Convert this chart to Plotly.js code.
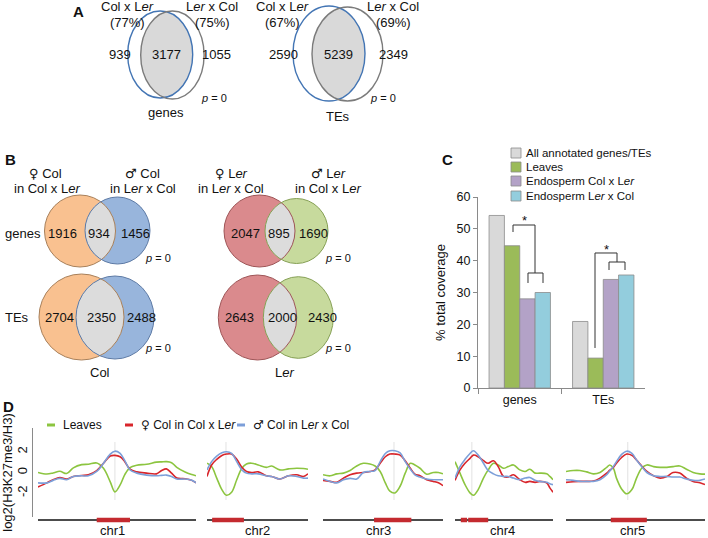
<!DOCTYPE html>
<html><head><meta charset="utf-8">
<script src="https://cdn.plot.ly/plotly-3.0.1.min.js"></script>
<style>html,body{margin:0;padding:0;background:#fff}</style>
</head><body><div id="chart" style="width:708px;height:538px"></div>
<script>
// ---------------- DATA ----------------
// Panel A: overlap of imprinted targets between reciprocal crosses
const vennAGenes = [939, 3177, 1055];
const vennAGenesPct = ['77%', '75%'];
const vennATEs = [2590, 5239, 2349];
const vennATEsPct = ['67%', '69%'];
// Panel B: parental-allele overlaps
const vennBColGenes = [1916, 934, 1456];
const vennBColTEs = [2704, 2350, 2488];
const vennBLerGenes = [2047, 895, 1690];
const vennBLerTEs = [2643, 2000, 2430];
// Panel C: % total coverage
const covCategories = ['genes', 'TEs'];
const covAll = [54.2, 20.9];
const covLeaves = [44.7, 9.4];
const covEndoColLer = [28.0, 34.1];
const covEndoLerCol = [30.0, 35.5];
const covNames = ['All annotated genes/TEs', 'Leaves', 'Endosperm Col x L<i>er</i>', 'Endosperm L<i>er</i> x Col'];
// Panel D: log2(H3K27me3/H3) profiles along chromosomes (Mb)
const chrNames = ['chr1', 'chr2', 'chr3', 'chr4', 'chr5'];
const chrLengths = [30.4, 19.7, 23.5, 18.6, 27.0];
const chrCentromeres = [14.8, 3.7, 13.9, 3.2, 12.0];
const periChr = [0, 1, 2, 3, 3, 4];
const periStart = [11.3, 1.0, 10.0, 1.1, 2.5, 8.7];
const periEnd = [17.7, 7.2, 17.3, 2.3, 6.3, 15.7];

const chr1X = [0, 1.7, 2.9, 4.2, 5.5, 6.8, 8.4, 9.7, 11.3, 12.6, 13.9, 14.8, 15.8, 16.7, 17.7, 19.0, 20.9, 22.8, 23.8, 24.7, 25.7, 26.7, 28.3, 29.6, 30.4];
const chr1Leaves = [0.0, -0.15, -0.05, 0.12, -0.1, 0.45, 0.76, 0.8, 0.92, 0.4, -0.9, -1.87, -1.2, -0.2, 0.48, 0.7, 0.8, 1.0, 1.03, 1.05, 0.95, 0.5, 0.05, -0.2, -0.32];
const chr1Female = [-1.4, -1.0, -0.7, -0.48, -0.63, -0.38, -0.29, -0.22, 0.19, 0.89, 1.59, 1.65, 1.52, 1.05, 0.32, 0.06, -0.06, -0.13, 0.19, 0.35, -0.06, -0.54, -0.6, -0.76, -1.0];
const chr1Male = [-1.0, -1.0, -0.76, -0.57, -0.7, -0.38, -0.32, -0.32, 0.1, 0.89, 1.78, 2.06, 1.84, 1.14, 0.25, -0.06, -0.25, -0.32, -0.28, -0.25, -0.38, -0.63, -0.63, -0.76, -1.0];

const chr2X = [0, 0.9, 1.9, 2.9, 3.8, 4.8, 5.8, 6.8, 7.7, 8.7, 10.0, 11.6, 12.6, 14.2, 15.9, 17.5, 18.8, 19.7];
const chr2Leaves = [0.9, 0.57, -0.54, -1.65, -2.2, -1.9, -0.7, 0.41, 0.83, 0.9, 0.73, 0.5, 0.63, 0.25, 0.35, 0.41, 0.38, 0.32];
const chr2Female = [-0.38, 0.73, 1.27, 1.65, 1.78, 1.78, 1.27, 0.5, 0.1, 0.0, 0.06, -0.32, -0.38, -0.63, -0.32, -0.22, -0.38, -0.13];
const chr2Male = [0.25, 1.05, 1.59, 1.9, 2.0, 1.84, 1.05, 0.25, -0.06, -0.13, -0.13, -0.32, -0.38, -0.63, -0.32, -0.38, -0.54, -0.54];

const chr3X = [0, 1.4, 2.7, 4.0, 5.3, 6.6, 7.9, 9.2, 10.2, 11.2, 12.2, 13.1, 14.1, 15.1, 16.1, 17.1, 18.0, 19.0, 20.3, 21.6, 22.6, 23.5];
const chr3Leaves = [-0.22, -0.32, -0.13, -0.06, 0.19, 0.63, 0.89, 0.83, 0.63, 0.1, -1.0, -1.81, -1.97, -1.33, -0.06, 0.89, 0.73, 0.41, -0.16, 0.0, 0.0, -0.13];
const chr3Female = [-0.76, -0.86, -0.95, -0.54, -0.22, -0.06, 0.0, 0.1, 0.25, 0.89, 1.52, 1.78, 1.78, 1.68, 1.14, 0.41, -0.16, -0.32, -0.7, -0.86, -1.0, -1.27];
const chr3Male = [-0.63, -0.86, -1.0, -0.7, -0.57, -0.63, 0.0, 0.1, 0.19, 1.05, 1.84, 2.1, 2.1, 1.9, 1.05, 0.32, -0.22, -0.44, -0.63, -0.7, -0.7, -0.7];

const chr4X = [0, 0.95, 1.9, 2.85, 3.5, 4.4, 5.4, 6.3, 7.3, 8.2, 9.2, 10.1, 11.1, 12.3, 13.3, 14.2, 15.2, 16.1, 17.4, 18.0, 18.6];
const chr4Leaves = [1.05, -0.06, -1.17, -1.97, -2.2, -1.65, -0.54, 0.25, 0.89, 0.73, 0.41, 0.57, 0.73, 0.25, 0.1, 0.32, -0.06, -0.06, -0.13, -0.38, -0.7];
const chr4Female = [-0.76, 0.25, 0.89, 1.37, 1.68, 1.52, 1.14, 0.89, 1.14, 0.57, -0.38, -0.44, -0.22, -0.7, -0.95, -0.86, -0.95, -0.86, -1.0, -1.49, -1.9];
const chr4Male = [-0.54, 0.57, 1.27, 1.84, 2.1, 1.68, 0.89, 0.19, -0.13, -0.32, -0.38, -0.38, -0.54, -0.7, -0.54, -0.48, -0.76, -0.86, -0.95, -1.08, -1.17];

const chr5X = [0, 1.4, 2.7, 4.0, 5.3, 6.6, 7.9, 8.5, 9.2, 9.8, 10.8, 11.8, 12.8, 13.7, 14.7, 15.7, 17.0, 18.3, 19.6, 20.8, 22.1, 23.4, 24.7, 26.0, 27.0];
const chr5Leaves = [0.1, 0.19, 0.19, 0.06, -0.13, 0.0, 0.5, 0.73, 0.41, -0.54, -1.59, -2.06, -1.65, -0.54, 0.41, 0.73, 0.57, 0.5, 0.5, 0.57, 0.63, 0.32, 0.0, -0.13, -0.16];
const chr5Female = [-0.95, -0.89, -0.86, -0.86, -0.83, -0.54, -0.06, 0.22, 0.5, 0.9, 1.45, 1.78, 1.65, 1.21, 0.63, 0.1, -0.32, -0.54, -0.38, 0.0, -0.06, -0.54, -0.86, -1.0, -1.17];
const chr5Male = [-0.7, -0.76, -0.86, -0.86, -0.86, -0.7, -0.22, 0.15, 0.57, 1.05, 1.75, 2.06, 1.84, 1.21, 0.57, 0.0, -0.32, -0.38, -0.38, -0.44, -0.44, -0.63, -0.76, -0.76, -0.63];

const FEM = '<span style="font-family:DejaVu Sans">\u2640</span>';
const MAL = '<span style="font-family:DejaVu Sans">\u2642</span>';
const profileNames = ['Leaves', FEM + ' Col in Col x L<i>er</i>', MAL + ' Col in L<i>er</i> x Col'];

// ---------------- LAYOUT HELPERS ----------------
const W = 708, H = 538;
const F = '"Liberation Sans", Arial, Helvetica, sans-serif';
const px = x => x / W;
const py = y => 1 - y / H;
const shapes = [];
const annotations = [];
function txt(text, x, y, size, opts) {
  const o = Object.assign({xanchor: 'center', yanchor: 'middle', family: F, color: '#111'}, opts || {});
  annotations.push({xref: 'paper', yref: 'paper', x: px(x), y: py(y), text: text, showarrow: false,
    xanchor: o.xanchor, yanchor: o.yanchor, font: {family: o.family, size: size, color: o.color}});
}
function ellipse(e, fill, stroke, w) {
  shapes.push({type: 'circle', xref: 'paper', yref: 'paper', layer: 'above',
    x0: px(e.cx - e.rx), x1: px(e.cx + e.rx), y0: py(e.cy + e.ry), y1: py(e.cy - e.ry),
    fillcolor: fill, line: {color: stroke, width: w}});
}
function ellPt(e, t) { return [e.cx + e.rx * Math.cos(t), e.cy + e.ry * Math.sin(t)]; }
function inE(e, p) { const dx = (p[0] - e.cx) / e.rx, dy = (p[1] - e.cy) / e.ry; return dx * dx + dy * dy <= 1; }
function arcIn(a, b) {
  const n = 360, pts = [], fl = [];
  for (let i = 0; i < n; i++) { const p = ellPt(a, 2 * Math.PI * i / n); pts.push(p); fl.push(inE(b, p)); }
  let s = 0;
  for (let i = 0; i < n; i++) { if (fl[i] && !fl[(i - 1 + n) % n]) { s = i; break; } }
  const out = [];
  for (let k = 0; k < n; k++) { const i = (s + k) % n; if (!fl[i]) break; out.push(pts[i]); }
  return out;
}
function lens(a, b, fill) {
  const pts = arcIn(a, b).concat(arcIn(b, a));
  const path = 'M' + pts.map(p => px(p[0]).toFixed(5) + ',' + py(p[1]).toFixed(5)).join('L') + 'Z';
  shapes.push({type: 'path', xref: 'paper', yref: 'paper', layer: 'above', path: path, fillcolor: fill, line: {width: 0}});
}
function poly(points, color, w) {
  const path = 'M' + points.map(p => px(p[0]).toFixed(5) + ',' + py(p[1]).toFixed(5)).join('L');
  shapes.push({type: 'path', xref: 'paper', yref: 'paper', layer: 'above', path: path, line: {color: color, width: w}});
}
const LER = 'L<i>er</i>';

// ---------------- PANEL A ----------------
txt('<b>A</b>', 78, 11, 15);
function vennA(blue, gray, counts, pcts, xs, label, labelY, pX) {
  lens(blue, gray, '#d9d9d9');
  ellipse(blue, 'rgba(0,0,0,0)', '#4375b4', 1.4);
  ellipse(gray, 'rgba(0,0,0,0)', '#7b7b7b', 1.4);
  txt('Col x ' + LER, xs[0], 7, 13);
  txt('(' + pcts[0] + ')', xs[0], 22, 13);
  txt(LER + ' x Col', xs[4], 7, 13);
  txt('(' + pcts[1] + ')', xs[4], 22, 13);
  txt(String(counts[0]), xs[1], 55, 13);
  txt(String(counts[1]), xs[2], 55, 13);
  txt(String(counts[2]), xs[3], 55, 13);
  txt('<i>p</i> = 0', pX, 98, 11);
  txt(label, xs[2], labelY, 13);
}
vennA({cx: 160.2, cy: 54.5, rx: 32.5, ry: 43.5}, {cx: 172.4, cy: 55, rx: 31.7, ry: 44},
  vennAGenes, vennAGenesPct, [127, 120, 166, 216, 212], 'genes', 113, 214);
vennA({cx: 329, cy: 53.5, rx: 36, ry: 47.5}, {cx: 347.5, cy: 54, rx: 35.5, ry: 47},
  vennATEs, vennATEsPct, [282, 283, 338, 393, 393], 'TEs', 116, 383);

// ---------------- PANEL B ----------------
txt('<b>B</b>', 10, 159, 15);
txt(FEM + ' Col', 45, 173, 13); txt('in Col x ' + LER, 47, 188, 13);
txt(MAL + ' Col', 142, 173, 13); txt('in ' + LER + ' x Col', 143, 188, 13);
txt(FEM + ' ' + LER, 232, 173, 13); txt('in ' + LER + ' x Col', 231, 188, 13);
txt(MAL + ' ' + LER, 328, 173, 13); txt('in Col x ' + LER, 328, 188, 13);
txt('genes', 3, 233, 13, {xanchor: 'left'});
txt('TEs', 3, 317, 13, {xanchor: 'left'});
function vennB(a, b, fa, sa, fb, sb, counts, xs, cy, pX, pY) {
  ellipse(a, fa, 'rgba(0,0,0,0)', 0);
  ellipse(b, fb, 'rgba(0,0,0,0)', 0);
  lens(a, b, '#dcdcdc');
  ellipse(a, 'rgba(0,0,0,0)', sa, 1);
  ellipse(b, 'rgba(0,0,0,0)', sb, 1);
  txt(String(counts[0]), xs[0], cy, 13);
  txt(String(counts[1]), xs[1], cy, 13);
  txt(String(counts[2]), xs[2], cy, 13);
  txt('<i>p</i> = 0', pX, pY, 11);
}
const ORF = '#f9c190', ORS = '#a8805a', BLF = '#98b5dc', BLS = '#5d7aa5';
const RDF = '#da8a8d', RDS = '#9e5557', GRF = '#c7da9d', GRS = '#86a055';
vennB({cx: 80, cy: 231, rx: 35.5, ry: 36}, {cx: 117.5, cy: 230.5, rx: 32.5, ry: 33.5},
  ORF, ORS, BLF, BLS, vennBColGenes, [62, 99, 135], 233, 158, 258);
vennB({cx: 259.5, cy: 231, rx: 35.5, ry: 36}, {cx: 296.5, cy: 231, rx: 31.5, ry: 32.5},
  RDF, RDS, GRF, GRS, vennBLerGenes, [245, 279, 313], 233, 338, 258);
vennB({cx: 81.5, cy: 317, rx: 42.5, ry: 43}, {cx: 115, cy: 317.5, rx: 39, ry: 41.5},
  ORF, ORS, BLF, BLS, vennBColTEs, [59, 101, 141], 317, 158, 348);
vennB({cx: 257.5, cy: 317.5, rx: 39.2, ry: 42.5}, {cx: 298.3, cy: 317.5, rx: 35, ry: 40.8},
  RDF, RDS, GRF, GRS, vennBLerTEs, [239, 282, 322], 317, 338, 348);
txt('Col', 100, 372, 13);
txt(LER, 284, 372, 13);

// ---------------- PANEL C ----------------
txt('<b>C</b>', 447, 159, 15);
const covColors = ['#d9d9d9', '#9bbb59', '#b3a2c7', '#93cddd'];
const covSeries = [covAll, covLeaves, covEndoColLer, covEndoLerCol];
const traces = covSeries.map((vals, i) => ({
  type: 'bar', x: covCategories, y: vals, name: covNames[i], xaxis: 'x', yaxis: 'y',
  marker: {color: covColors[i], line: {color: '#8c8c8c', width: 0.8}}, hoverinfo: 'x+y+name'
}));
// legend for C (key boxes + labels)
const legRows = [153, 167, 181, 196];
covNames.forEach((n, i) => {
  shapes.push({type: 'rect', xref: 'paper', yref: 'paper', layer: 'above',
    x0: px(511), x1: px(521), y0: py(legRows[i] + 5), y1: py(legRows[i] - 5),
    fillcolor: covColors[i], line: {color: '#8c8c8c', width: 0.8}});
  txt(n, 524, legRows[i], 11.5, {xanchor: 'left'});
});
// significance brackets
poly([[513, 232], [513, 225], [535, 225], [535, 273]], '#333', 1);
poly([[528, 283], [528, 273], [543, 273], [543, 283]], '#333', 1);
poly([[595, 348], [595, 253], [617, 253], [617, 262]], '#333', 1);
poly([[609, 270], [609, 262], [625, 262], [625, 270]], '#333', 1);
txt('*', 524, 221, 13);
txt('*', 606, 249, 13);

// ---------------- PANEL D ----------------
txt('<b>D</b>', 8, 406, 15);
const profColors = ['#8cc540', '#d8252b', '#7c9fd9'];
const legD = [[47, 55, 61], [125, 133, 139], [237, 245, 251]];
profileNames.forEach((n, i) => {
  shapes.push({type: 'line', xref: 'paper', yref: 'paper', layer: 'above',
    x0: px(legD[i][0]), x1: px(legD[i][1]), y0: py(425), y1: py(425), line: {color: profColors[i], width: 3}});
  txt(n, legD[i][2], 425, 12, {xanchor: 'left'});
});
const chrX = [chr1X, chr2X, chr3X, chr4X, chr5X];
const chrProfiles = [
  [chr1Leaves, chr1Female, chr1Male],
  [chr2Leaves, chr2Female, chr2Male],
  [chr3Leaves, chr3Female, chr3Male],
  [chr4Leaves, chr4Female, chr4Male],
  [chr5Leaves, chr5Female, chr5Male]
];
const chrDomPx = [[38, 196], [207, 308], [323, 443], [455, 553], [566, 705]];
const chrLabelPx = [112, 257, 378, 502, 632];
const layoutAxes = {};
chrNames.forEach((c, k) => {
  const ax = 'x' + (k + 2);
  chrProfiles[k].forEach((vals, s) => {
    traces.push({type: 'scatter', mode: 'lines', x: chrX[k], y: vals, xaxis: ax, yaxis: 'y2',
      name: profileNames[s], showlegend: false,
      line: {color: profColors[s], width: 1.6, shape: 'spline', smoothing: 1}});
  });
  layoutAxes['xaxis' + (k + 2)] = {domain: [px(chrDomPx[k][0]), px(chrDomPx[k][1])], range: [0, chrLengths[k]],
    anchor: 'y2', visible: false, fixedrange: true};
  shapes.push({type: 'line', xref: ax, yref: 'paper', layer: 'below', x0: chrCentromeres[k], x1: chrCentromeres[k],
    y0: py(500), y1: py(442), line: {color: '#e2e2e2', width: 1}});
  shapes.push({type: 'line', xref: ax, yref: 'paper', layer: 'above', x0: 0, x1: chrLengths[k],
    y0: py(520), y1: py(520), line: {color: '#111', width: 1.6}});
  annotations.push({xref: ax, yref: 'paper', x: chrLengths[k] * (chrLabelPx[k] - chrDomPx[k][0]) / (chrDomPx[k][1] - chrDomPx[k][0]),
    y: py(530), text: c, showarrow: false, xanchor: 'center', yanchor: 'middle', font: {family: F, size: 13, color: '#111'}});
});
periChr.forEach((k, i) => {
  shapes.push({type: 'line', xref: 'x' + (k + 2), yref: 'paper', layer: 'above', x0: periStart[i], x1: periEnd[i],
    y0: py(520), y1: py(520), line: {color: '#c42a2f', width: 4.5}});
});

const layout = Object.assign({
  width: W, height: H, margin: {l: 0, r: 0, t: 0, b: 0},
  paper_bgcolor: '#fff', plot_bgcolor: 'rgba(0,0,0,0)',
  showlegend: false, font: {family: F, size: 12, color: '#111'},
  barmode: 'group', bargap: 0.265, bargroupgap: 0,
  xaxis: {domain: [px(478), px(645)], anchor: 'y', type: 'category', showline: true, linecolor: '#8a8a8a', linewidth: 1,
    ticks: 'outside', tickson: 'boundaries', ticklen: 5, tickcolor: '#8a8a8a', showgrid: false, zeroline: false,
    tickfont: {family: F, size: 12.5, color: '#111'}, fixedrange: true},
  yaxis: {domain: [py(388), py(197)], anchor: 'x', range: [0, 60], dtick: 10, showline: true, linecolor: '#8a8a8a', linewidth: 1,
    ticks: 'outside', ticklen: 4, tickcolor: '#8a8a8a', showgrid: false, zeroline: false,
    tickfont: {family: F, size: 12.5, color: '#111'}, fixedrange: true,
    title: {text: '% total coverage', font: {family: F, size: 13, color: '#111'}, standoff: 8}},
  yaxis2: {domain: [py(517), py(428)], range: [-4.3, 4.3], anchor: 'free', position: px(32),
    showline: true, linecolor: '#8a8a8a', linewidth: 1.2, ticks: '', tickmode: 'array', tickvals: [-2, 0, 2], ticktext: ['-2', '0', '2'],
    tickangle: -90, showgrid: false, zeroline: false, tickfont: {family: F, size: 13, color: '#111'}, fixedrange: true,
    title: {text: 'log2(H3K27me3/H3)', font: {family: F, size: 13, color: '#111'}, standoff: 4}},
  shapes: shapes, annotations: annotations
}, layoutAxes);

Plotly.newPlot('chart', traces, layout, {displayModeBar: false, staticPlot: true});
</script>
</body></html>
